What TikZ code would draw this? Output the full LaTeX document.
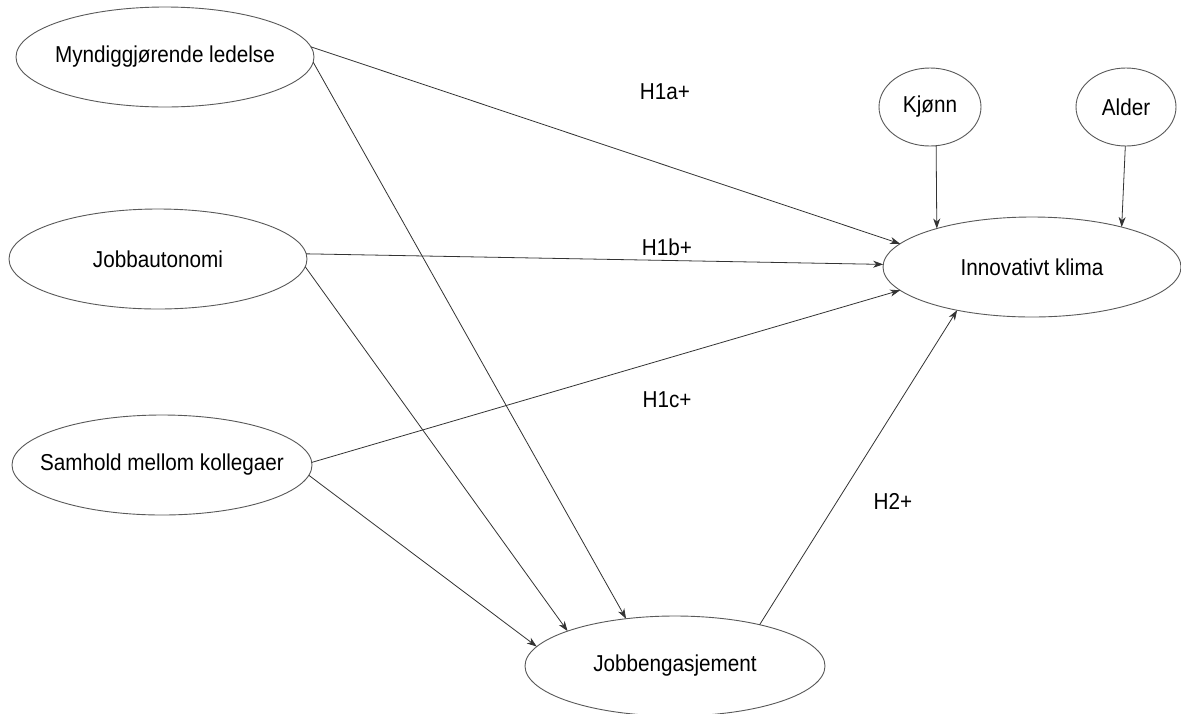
\documentclass[tikz,border=0pt]{standalone}
\usepackage{fontspec}
\setmainfont[FakeStretch=0.9]{Liberation Sans}
\usetikzlibrary{shapes.geometric,arrows.meta}
\begin{document}
\begin{tikzpicture}[x=1pt,y=-1pt,
  ell/.style={ellipse, draw=black!65, line width=0.9pt, inner sep=0pt, outer sep=0pt, fill=white},
  lbl/.style={font=\fontsize{23}{27}\selectfont, text=black, inner sep=0pt},
  conn/.style={draw=black!80, line width=0.8pt, -{Stealth[length=10pt,width=7pt,inset=3pt]}},
  hyp/.style={font=\fontsize{23}{27}\selectfont, inner sep=0pt}
]
\useasboundingbox[fill=white] (0,0) rectangle (1181,713);

\node[ell, minimum width=298pt, minimum height=100pt, label={[lbl]center:Myndiggjørende ledelse}] (m) at (165,57) {};
\node[ell, minimum width=298pt, minimum height=100pt, label={[lbl]center:Jobbautonomi}] (ja) at (158,259) {};
\node[ell, minimum width=300pt, minimum height=100pt, label={[lbl]center:Samhold mellom kollegaer}] (s) at (162,465) {};
\node[ell, minimum width=298pt, minimum height=100pt, label={[lbl]center:Innovativt klima}] (i) at (1032,267) {};
\node[ell, minimum width=102pt, minimum height=78pt, label={[lbl]center:Kjønn}] (k) at (930,107) {};
\node[ell, minimum width=100pt, minimum height=78pt, label={[lbl]center:Alder}] (a) at (1126,107) {};
\node[ell, minimum width=300pt, minimum height=100pt, label={[lbl]center:Jobbengasjement}] (j) at (675,666) {};

\node[hyp] (h1a) at (665,92) {H1a+};
\node[hyp] (h1b) at (667,247) {H1b+};
\node[hyp] (h1c) at (667,400) {H1c+};
\node[hyp] (h2) at (893,501) {H2+};

\draw[conn] (m.4) -- (i.170);
\draw[conn] (m.-2) -- (j.136);
\draw[conn] (ja.2) -- (i.179);
\draw[conn] (ja.-3) -- (j.162);
\draw[conn] (s.1) -- (i.190);
\draw[conn] (s.-4) -- (j.172);
\draw[conn] (j.26) -- (i.210);
\draw[conn] (k.-81) -- (i.158);
\draw[conn] (a.-91) -- (i.24);
\end{tikzpicture}
\end{document}
